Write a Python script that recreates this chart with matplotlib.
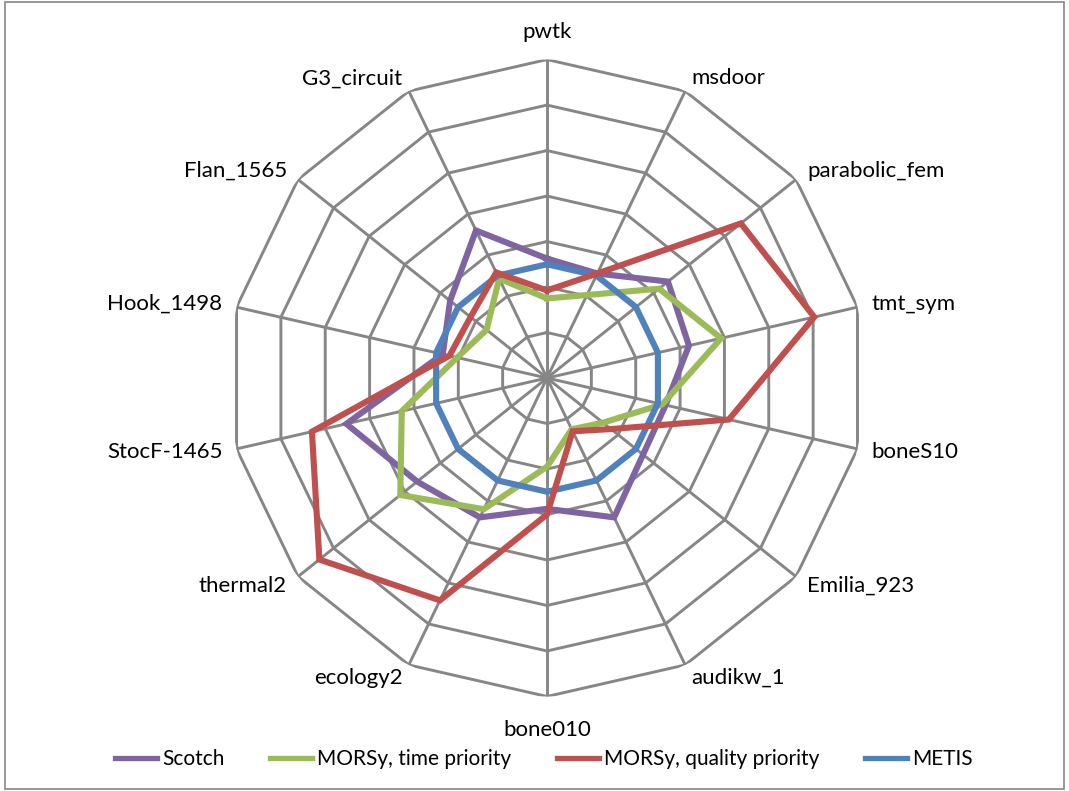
import numpy as np
import matplotlib.pyplot as plt
from matplotlib.patches import Rectangle

# Categories clockwise from the top
categories = ['pwtk', 'msdoor', 'parabolic_fem', 'tmt_sym', 'boneS10', 'Emilia_923',
              'audikw_1', 'bone010', 'ecology2', 'thermal2', 'StocF-1465',
              'Hook_1498', 'Flan_1565', 'G3_circuit']

# Values (METIS = 1.0 baseline)
scotch = [1.05, 1.02, 1.36, 1.28, 1.07, 1.08, 1.36, 1.15, 1.36, 1.46, 1.81, 0.94, 1.09, 1.44]
morsy_time = [0.70, 0.81, 1.26, 1.57, 1.04, 0.63, 0.50, 0.78, 1.28, 1.65, 1.31, 0.81, 0.68, 0.97]
morsy_quality = [0.77, 1.02, 2.18, 2.41, 1.64, 0.72, 0.52, 1.20, 2.17, 2.56, 2.12, 0.88, 0.86, 1.03]
metis = [1.00, 1.00, 1.00, 1.00, 1.00, 1.00, 1.00, 1.00, 1.00, 1.00, 1.00, 1.00, 1.00, 1.00]

series_names = ['Scotch', 'MORSy, time priority', 'MORSy, quality priority', 'METIS']
series_colors = ['#8064A2', '#9BBB59', '#C0504D', '#4F81BD']
series_z = [3, 4, 6, 5]

ring_step = 0.4
n_rings = 7
rmax = ring_step * n_rings
grid_color = '#868686'
font = 'Lato'

n = len(categories)
theta = np.linspace(0, 2 * np.pi, n, endpoint=False)
theta_closed = np.append(theta, theta[0])

fig = plt.figure(figsize=(10.69, 7.91), dpi=100)
ax = fig.add_axes([0.2138, 0.1194, 0.5958, 0.8054], projection='polar')
ax.set_theta_offset(np.pi / 2)
ax.set_theta_direction(-1)
ax.set_ylim(0, rmax)
ax.set_xticks([])
ax.set_yticks([])
ax.grid(False)
ax.spines['polar'].set_visible(False)
ax.patch.set_visible(False)

# Polygon grid (rings and spokes)
for k in range(1, n_rings + 1):
    ax.plot(theta_closed, [k * ring_step] * (n + 1), color=grid_color, lw=2.1, zorder=1)
for t in theta:
    ax.plot([t, t], [0, rmax], color=grid_color, lw=2.1, zorder=1)

# Data series
handles = []
for vals, name, col, z in zip([scotch, morsy_time, morsy_quality, metis],
                              series_names, series_colors, series_z):
    v = np.append(vals, vals[0])
    line, = ax.plot(theta_closed, v, color=col, lw=4.4, label=name, zorder=z,
                    solid_joinstyle='miter')
    handles.append(line)

# Category labels
for t, lab in zip(theta, categories):
    s = np.sin(t)
    if abs(s) < 0.1:
        r = rmax * (1.085 if np.cos(t) > 0 else 1.105)
        ha = 'center'
    else:
        r = rmax * 1.045
        ha = 'left' if s > 0 else 'right'
    ax.text(t, r, lab, ha=ha, va='center', fontsize=16, family=font,
            color='black', clip_on=False)

leg = fig.legend(handles, series_names, loc='center', bbox_to_anchor=(544 / 1069, 1 - 759 / 791),
                 ncol=4, frameon=False, handlelength=2.0, columnspacing=2.2, handletextpad=0.25,
                 prop={'family': font, 'size': 15})
for h in leg.get_lines():
    h.set_linewidth(3.8)

# Chart border
fig.patches.append(Rectangle((0.005, 0.002), 0.99, 0.996, transform=fig.transFigure,
                             fill=False, edgecolor='#868686', lw=1.2))

fig.savefig('out.png', dpi=100)
